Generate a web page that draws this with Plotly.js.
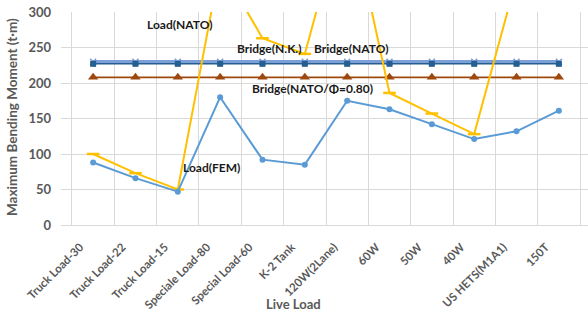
<!DOCTYPE html>
<html>
<head>
<meta charset="utf-8">
<script src="https://cdn.plot.ly/plotly-3.0.1.min.js"></script>
<style>
html,body{margin:0;padding:0;overflow:hidden;background:#fff;width:588px;height:313px;}
#chart{width:592px;height:313px;}
</style>
</head>
<body>
<div id="chart"></div>
<script>
const categories = ["Truck Load-30","Truck Load-22","Truck Load-15","Speciale Load-80","Special Load-60","K-2 Tank","120W(2Lane)","60W","50W","40W","US HETS(M1A1)","150T"];
const loadFEM = [88,66,47,180,92,85,175,163,142,121,132,161];
const loadNATO = [100,73,50,366,263,241,460,186,157,128,347,420];
const bridgeNK = [230,230,230,230,230,230,230,230,230,230,230,230];
const bridgeNATO = [227,227,227,227,227,227,227,227,227,227,227,227];
const bridgeNATO080 = [208,208,208,208,208,208,208,208,208,208,208,208];
const yTicks = [0,50,100,150,200,250,300];

const FONT = "Lato, 'Open Sans', sans-serif";
const W = 592, H = 313, L = 61, R = 1, T = 12, B = 88;
const pw = W - L - R, ph = H - T - B;
function px(x){ return (x - L) / pw; }
function py(y){ return (H - B - y) / ph; }

const traces = [
  {x: categories, y: bridgeNK, name: "Bridge(N.K.)", type: "scatter", mode: "lines+markers",
   line: {color: "#7C9FD8", width: 3.5},
   marker: {symbol: "x-thin-open", size: 6, line: {color: "#4472C4", width: 1.5}}},
  {x: categories, y: bridgeNATO, name: "Bridge(NATO)", type: "scatter", mode: "lines+markers",
   line: {color: "#255E91", width: 1.5},
   marker: {symbol: "square", size: 6, color: "#255E91"}},
  {x: categories, y: bridgeNATO080, name: "Bridge(NATO/Φ=0.80)", type: "scatter", mode: "lines+markers",
   line: {color: "#9E480E", width: 1.8},
   marker: {symbol: "triangle-up", size: 9, color: "#9E480E"}},
  {x: categories, y: loadNATO, name: "Load(NATO)", type: "scatter", mode: "lines+markers",
   line: {color: "#FFC000", width: 2},
   marker: {symbol: "line-ew", size: 9, line: {color: "#FFC000", width: 2.5}}, cliponaxis: true},
  {x: categories, y: loadFEM, name: "Load(FEM)", type: "scatter", mode: "lines+markers",
   line: {color: "#5B9BD5", width: 2},
   marker: {symbol: "circle", size: 6, color: "#5B9BD5"}}
];

const labelFont = {family: FONT, size: 12, color: "#1a1a1a", weight: "bold"};
function lab(text, x, y){
  return {text: text, xref: "paper", yref: "paper", x: px(x), y: py(y), xanchor: "center", yanchor: "middle",
          showarrow: false, font: labelFont};
}

const layout = {
  width: W, height: H,
  margin: {l: L, r: R, t: T, b: B, pad: 0},
  paper_bgcolor: "#fff", plot_bgcolor: "#fff",
  showlegend: false,
  font: {family: FONT},
  xaxis: {
    type: "category", tickson: "boundaries", showgrid: true, gridcolor: "#D9D9D9", gridwidth: 1,
    showline: true, linecolor: "#D9D9D9", linewidth: 1, ticks: "", tickangle: -45,
    tickfont: {family: FONT, size: 11.5, color: "#595959", weight: "bold"},
    ticklabelstandoff: 10, ticklabelshift: -13, zeroline: false, fixedrange: true
  },
  yaxis: {
    range: [0, 300], tickvals: yTicks, showgrid: true, gridcolor: "#D9D9D9", gridwidth: 1,
    showline: false, zeroline: false, ticks: "",
    tickfont: {family: FONT, size: 13, color: "#595959", weight: "bold"},
    ticklabelstandoff: 9, fixedrange: true
  },
  annotations: [
    {text: "Maximum Bending Moment (t·m)", xref: "paper", yref: "paper", x: px(12), y: py(117),
     xanchor: "center", yanchor: "middle", textangle: -90, showarrow: false,
     font: {family: FONT, size: 13.5, color: "#595959", weight: "bold"}},
    {text: "Live Load", xref: "paper", yref: "paper", x: px(293), y: py(304),
     xanchor: "center", yanchor: "middle", showarrow: false,
     font: {family: FONT, size: 13, color: "#595959", weight: "bold"}},
    lab("Load(NATO)", 179, 24),
    lab("Bridge(N.K.)", 269, 49),
    lab("Bridge(NATO)", 351, 49),
    lab("Bridge(NATO/Φ=0.80)", 312, 88),
    lab("Load(FEM)", 211, 167)
  ]
};

Plotly.newPlot("chart", traces, layout, {displayModeBar: false, staticPlot: true});
</script>
</body>
</html>
